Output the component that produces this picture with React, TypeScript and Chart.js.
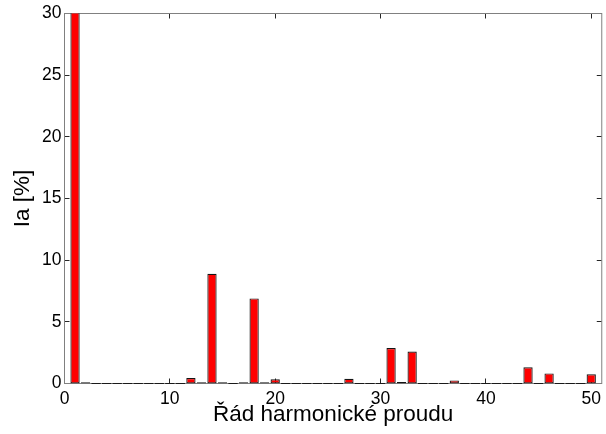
import { useEffect, useRef } from "react";
import { Chart, registerables } from "chart.js";

Chart.register(...registerables);

// Harmonic orders and their current amplitudes (percent of fundamental)
const harmonicOrders = [
  1, 2, 3, 4, 5, 6, 7, 8, 9, 10,
  11, 12, 13, 14, 15, 16, 17, 18, 19, 20,
  21, 22, 23, 24, 25, 26, 27, 28, 29, 30,
  31, 32, 33, 34, 35, 36, 37, 38, 39, 40,
  41, 42, 43, 44, 45, 46, 47, 48, 49, 50,
];

const currentPercent = [
  100, 0.1, 0, 0, 0, 0, 0, 0, 0, 0,
  0, 0.45, 0.1, 8.9, 0.1, 0, 0.1, 6.9, 0.1, 0.35,
  0, 0, 0, 0, 0, 0, 0.38, 0, 0, 0,
  2.87, 0.12, 2.6, 0, 0, 0, 0.25, 0, 0, 0,
  0, 0, 0, 1.32, 0, 0.82, 0, 0, 0, 0.74,
];

const xTickValues = [0, 10, 20, 30, 40, 50];
const yTickValues = [0, 5, 10, 15, 20, 25, 30];

const xLimits = [0, 51];
const yLimits = [0, 30];

const xTitle = "Řád harmonické proudu";
const yTitle = "Ia [%]";

const FONT = "'Liberation Sans', Arial, sans-serif";
const TICK_LEN = 5;

// Box around the axes with inward-pointing ticks on all four sides,
// plus the flat outline of zero-height bars.
const axesBoxPlugin = {
  id: "axesBox",
  beforeDatasetsDraw(chart: any) {
    const { ctx, chartArea } = chart;
    const { left, right, top, bottom } = chartArea;
    const xs = chart.scales.x;
    const ys = chart.scales.y;
    ctx.save();
    ctx.lineWidth = 1;
    ctx.strokeStyle = "#262626";
    ctx.beginPath();
    for (const v of xTickValues) {
      const px = Math.round(xs.getPixelForValue(v) - 0.5) + 0.5;
      ctx.moveTo(px, bottom);
      ctx.lineTo(px, bottom - TICK_LEN);
      ctx.moveTo(px, top);
      ctx.lineTo(px, top + TICK_LEN);
    }
    for (const v of yTickValues) {
      const py = Math.round(ys.getPixelForValue(v) - 0.5) + 0.5;
      ctx.moveTo(left, py);
      ctx.lineTo(left + TICK_LEN, py);
      ctx.moveTo(right, py);
      ctx.lineTo(right - TICK_LEN, py);
    }
    ctx.stroke();
    ctx.strokeStyle = "#808080";
    ctx.strokeRect(left, top, right - left, bottom - top);
    ctx.restore();
  },
  afterDatasetsDraw(chart: any) {
    const { ctx } = chart;
    const meta = chart.getDatasetMeta(0);
    const data = chart.data.datasets[0].data as { x: number; y: number }[];
    ctx.save();
    ctx.strokeStyle = "#1a1a1a";
    ctx.lineWidth = 1;
    ctx.beginPath();
    meta.data.forEach((bar: any, i: number) => {
      if (data[i].y !== 0) return;
      const props = bar.getProps(["x", "width", "base"], true);
      const yy = Math.round(props.base - 0.5) + 0.5;
      ctx.moveTo(props.x - props.width / 2, yy);
      ctx.lineTo(props.x + props.width / 2, yy);
    });
    ctx.stroke();
    ctx.restore();
  },
};

export default function App() {
  const canvasRef = useRef<HTMLCanvasElement | null>(null);

  useEffect(() => {
    document.body.style.margin = "0";
    const canvas = canvasRef.current;
    if (!canvas) return;

    const points = harmonicOrders.map((h, i) => ({ x: h, y: currentPercent[i] }));

    const chart = new Chart(canvas, {
      type: "bar",
      data: {
        datasets: [
          {
            data: points,
            backgroundColor: "#ff0000",
            borderColor: "#141414",
            borderWidth: 1.2,
            borderSkipped: false,
            categoryPercentage: 1,
            barPercentage: 0.88,
          },
        ],
      },
      options: {
        responsive: false,
        animation: false,
        devicePixelRatio: 1,
        layout: { padding: { top: 13.5, right: 1.5, left: 0, bottom: 0 } },
        plugins: {
          legend: { display: false },
          tooltip: { enabled: false },
        },
        scales: {
          x: {
            type: "linear",
            min: xLimits[0],
            max: xLimits[1],
            offset: false,
            grid: { display: false, drawTicks: false },
            border: { display: false },
            afterBuildTicks: (scale: any) => {
              scale.ticks = xTickValues.map((v) => ({ value: v }));
            },
            afterFit: (scale: any) => {
              scale.height = 50.5;
            },
            ticks: {
              autoSkip: false,
              maxRotation: 0,
              padding: 5,
              color: "#000",
              font: { family: FONT, size: 17.5 },
            },
            title: {
              display: true,
              text: xTitle,
              color: "#000",
              font: { family: FONT, size: 22.5 },
              padding: { top: 0, bottom: 6 },
            },
          },
          y: {
            type: "linear",
            min: yLimits[0],
            max: yLimits[1],
            grid: { display: false, drawTicks: false },
            border: { display: false },
            afterBuildTicks: (scale: any) => {
              scale.ticks = yTickValues.map((v) => ({ value: v }));
            },
            afterFit: (scale: any) => {
              scale.width = 64.5;
            },
            ticks: {
              padding: 3,
              color: "#000",
              font: { family: FONT, size: 17.5 },
            },
            title: {
              display: true,
              text: yTitle,
              color: "#000",
              font: { family: FONT, size: 22.5 },
              padding: { top: 9, bottom: 0 },
            },
          },
        },
      },
      plugins: [axesBoxPlugin],
    });

    return () => chart.destroy();
  }, []);

  return (
    <div style={{ position: "fixed", left: 0, top: 0, width: 606, height: 434, background: "#fff" }}>
      <canvas ref={canvasRef} width={606} height={434} />
    </div>
  );
}
